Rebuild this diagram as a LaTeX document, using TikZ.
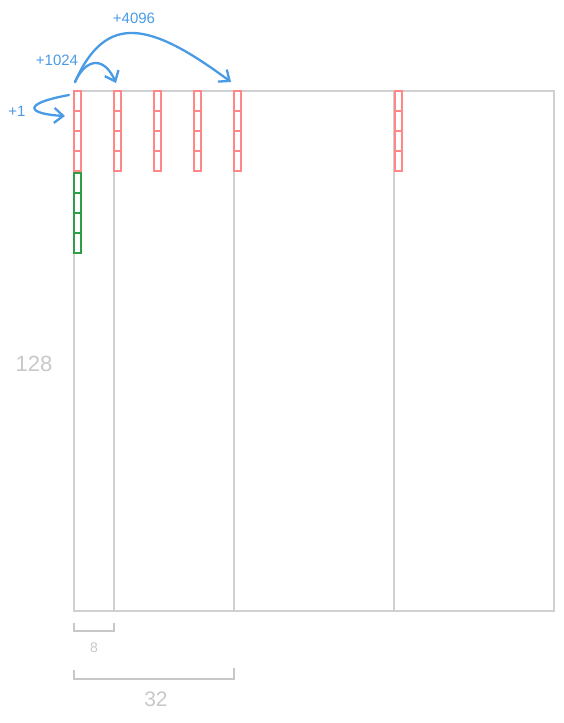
\documentclass[tikz,border=0pt]{standalone}
\usepackage{fontspec}
\setmainfont{Liberation Sans}
\usetikzlibrary{arrows.meta}

\definecolor{gridgray}{HTML}{D0D0D0}
\definecolor{labelgray}{HTML}{C8C8C8}
\definecolor{cellred}{HTML}{FF8787}
\definecolor{cellgreen}{HTML}{2F9E44}
\definecolor{jumpblue}{HTML}{4A9BE6}

\tikzset{
    grid line/.style={draw=gridgray, line width=1.4pt},
    red cell/.style={draw=cellred, line width=1.3pt},
    green cell/.style={draw=cellgreen, line width=1.3pt},
    jump/.style={draw=jumpblue, line width=2.3pt, line cap=round,
        -{Straight Barb[length=9pt,width=15pt,line width=2.3pt]}},
    jump label/.style={text=jumpblue, font=\fontsize{15}{17}\selectfont},
    size label/.style={text=labelgray}
}

\begin{document}
\begin{tikzpicture}[x=1pt, y=-1pt]
    \useasboundingbox (0,0) rectangle (564,723);

    % Matrix outline and column blocks
    \draw[grid line] (74,91) rectangle (554,611);
    \foreach \xc in {114,234,394}
        \draw[grid line] (\xc,91) -- (\xc,611);

    % Red strips along the first row
    \foreach \xc in {74,114,154,194,234,395} {
        \draw[red cell] (\xc,91) rectangle ++(7,80);
        \foreach \yc in {111,131,151}
            \draw[red cell] (\xc,\yc) -- ++(7,0);
    }

    % Green strip below the first one
    \draw[green cell] (74,173) rectangle ++(7,80);
    \foreach \yc in {193,213,233}
        \draw[green cell] (74,\yc) -- ++(7,0);

    % Jump start and end points
    \coordinate (S1) at (69,95);
    \coordinate (E1) at (65,116);
    \coordinate (S) at (75,82);
    \coordinate (E2) at (116,83);
    \coordinate (E3) at (231,82);

    % Jumps
    \draw[jump] (S1) .. controls (20,104) and (28,114) .. (E1);
    \draw[jump] (S) .. controls (86,58) and (104,56) .. (E2);
    \draw[jump] (S) .. controls (106,12) and (150,22) .. (E3);

    \node[jump label] (one) at (17,111) {+1};
    \node[jump label] (kilo) at (57,60) {+1024};
    \node[jump label] (four) at (134,18) {+4096};

    % Sizes
    \draw[grid line, draw=labelgray] (74,623) -- (74,631) -- (114,631) -- (114,623);
    \draw[grid line, draw=labelgray] (74,670) -- (74,679) -- (234,679) -- (234,668);

    \node[size label, font=\fontsize{14}{16}\selectfont] (eight) at (94,648) {8};
    \node[size label, font=\fontsize{21}{23}\selectfont] (thirtytwo) at (156,699) {32};
    \node[size label, font=\fontsize{22}{24}\selectfont] (rows) at (34,364) {128};
\end{tikzpicture}
\end{document}
